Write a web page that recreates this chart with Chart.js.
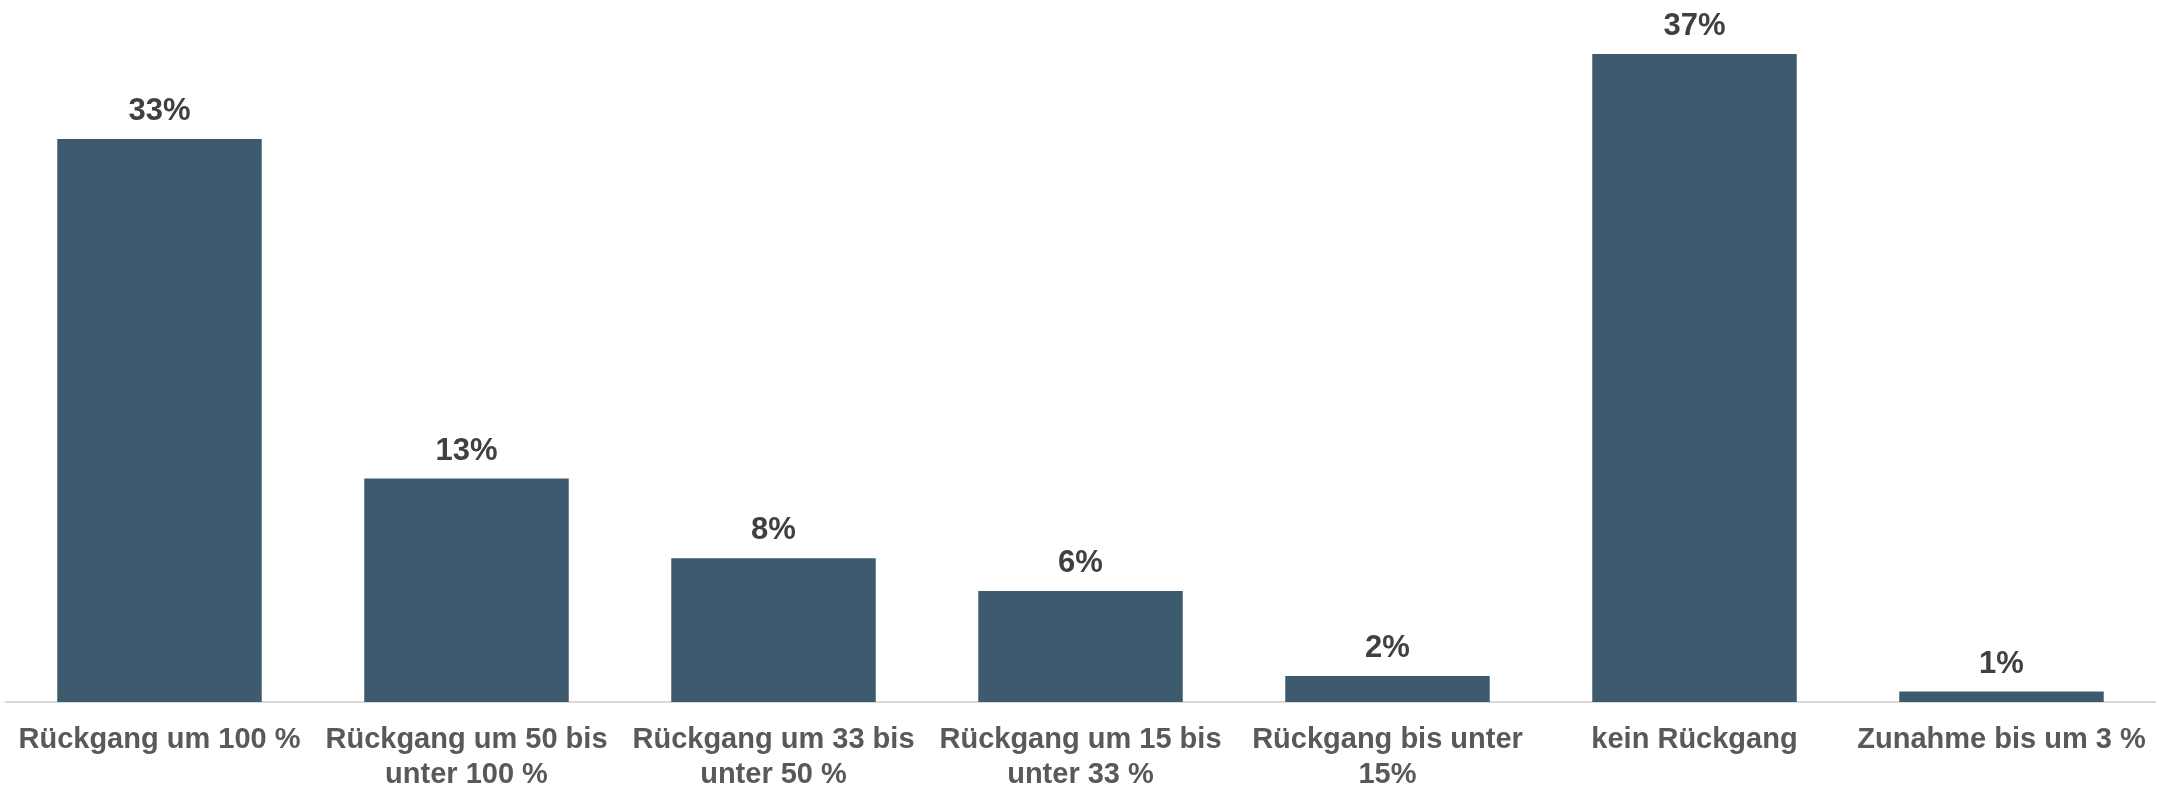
<!DOCTYPE html>
<html>
<head>
<meta charset="utf-8">
<script src="https://cdn.jsdelivr.net/npm/chart.js@4/dist/chart.umd.min.js"></script>
<style>
html,body{margin:0;padding:0;background:#fff;overflow:hidden;}
canvas{display:block;}
</style>
</head>
<body>
<canvas id="c" width="2159" height="786"></canvas>
<script>
const categories = [
  "Rückgang um 100 %",
  ["Rückgang um 50 bis", "unter 100 %"],
  ["Rückgang um 33 bis", "unter 50 %"],
  ["Rückgang um 15 bis", "unter 33 %"],
  ["Rückgang bis unter", "15%"],
  "kein Rückgang",
  "Zunahme bis um 3 %"
];
const values = [32.5, 12.9, 8.3, 6.4, 1.5, 37.4, 0.6];
const valueLabels = ["33%", "13%", "8%", "6%", "2%", "37%", "1%"];

const labelPlugin = {
  id: 'valueLabels',
  afterDatasetsDraw(chart) {
    const ctx = chart.ctx;
    const meta = chart.getDatasetMeta(0);
    ctx.save();
    ctx.font = 'bold 31px "Liberation Sans", Arial, sans-serif';
    ctx.fillStyle = '#404040';
    ctx.textAlign = 'center';
    ctx.textBaseline = 'alphabetic';
    meta.data.forEach((bar, i) => {
      ctx.fillText(valueLabels[i], bar.x, bar.y - 19);
    });
    ctx.restore();
  }
};

new Chart(document.getElementById('c'), {
  type: 'bar',
  data: {
    labels: categories,
    datasets: [{
      data: values,
      backgroundColor: '#3d5a6e',
      barPercentage: 0.666,
      categoryPercentage: 1.0
    }]
  },
  options: {
    responsive: false,
    animation: false,
    layout: { padding: { top: 9, left: 6, right: 4, bottom: 0 } },
    plugins: { legend: { display: false }, tooltip: { enabled: false } },
    scales: {
      y: { display: false, min: 0, max: 40 },
      x: {
        afterFit(scale) { scale.height = 84; scale.paddingLeft = 0; scale.paddingRight = 0; },
        grid: { display: false, drawTicks: false },
        border: { display: true, color: '#d9d9d9', width: 2 },
        ticks: {
          color: '#595959',
          font: { family: '"Liberation Sans", Arial, sans-serif', size: 29, weight: 'bold', lineHeight: 1.19 },
          padding: 21,
          maxRotation: 0,
          autoSkip: false
        }
      }
    }
  },
  plugins: [labelPlugin]
});
</script>
</body>
</html>
